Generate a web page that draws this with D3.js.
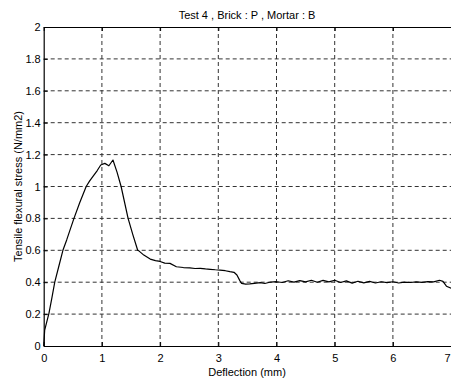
<!DOCTYPE html>
<html><head><meta charset="utf-8">
<script src="https://cdn.jsdelivr.net/npm/d3@7"></script>
<style>
html,body{margin:0;padding:0;background:#fff;}
svg{display:block;}
text{font-family:"Liberation Sans",Arial,Helvetica,sans-serif;fill:#000;}
</style></head><body>
<svg id="chart" width="451" height="380"></svg>
<script>
const title = "Test 4 , Brick : P , Mortar : B";
const xLabel = "Deflection (mm)";
const yLabel = "Tensile flexural stress (N/mm2)";
const xTicks = [0,1,2,3,4,5,6,7];
const yTicks = [0,0.2,0.4,0.6,0.8,1,1.2,1.4,1.6,1.8,2];
const deflection = [0,0.017,0.045,0.09,0.14,0.19,0.26,0.33,0.395,0.45,0.52,0.62,0.73,0.79,0.85,0.92,0.98,1.05,1.12,1.19,1.26,1.33,1.45,1.53,1.615,1.64,1.72,1.83,1.92,2.0,2.08,2.17,2.28,2.4,2.51,2.6,2.69,2.78,2.86,2.95,3.03,3.12,3.2,3.27,3.32,3.37,3.40,3.47,3.54,3.62,3.72,3.8,3.9,4.0,4.1,4.2,4.3,4.4,4.5,4.6,4.7,4.8,4.9,5.0,5.1,5.2,5.3,5.4,5.5,5.6,5.7,5.8,5.9,6.0,6.1,6.2,6.3,6.4,6.5,6.6,6.7,6.8,6.86,6.92,7.0];
const stress = [0,0.10,0.14,0.205,0.30,0.40,0.50,0.60,0.665,0.725,0.80,0.90,1.00,1.035,1.065,1.10,1.135,1.145,1.13,1.166,1.09,1.00,0.80,0.70,0.60,0.595,0.57,0.545,0.535,0.53,0.52,0.518,0.497,0.492,0.49,0.486,0.487,0.483,0.481,0.478,0.476,0.472,0.466,0.462,0.445,0.41,0.393,0.388,0.389,0.393,0.397,0.392,0.401,0.403,0.398,0.409,0.400,0.410,0.402,0.412,0.400,0.411,0.402,0.412,0.398,0.408,0.394,0.406,0.396,0.405,0.395,0.403,0.397,0.403,0.395,0.400,0.398,0.402,0.399,0.404,0.402,0.412,0.405,0.375,0.362];

const svg = d3.select("#chart");
const L = 43.7, R = 451.1, T = 27, B = 346;
const x = d3.scaleLinear().domain([0,7]).range([L,R]);
const y = d3.scaleLinear().domain([0,2]).range([B,T]);

// grid
const g = svg.append("g");
g.selectAll(".vg").data(xTicks.filter(d=>d>0&&d<7)).enter().append("line")
  .attr("x1",d=>x(d)).attr("x2",d=>x(d)).attr("y1",B).attr("y2",T)
  .attr("stroke","#333").attr("stroke-width",1).attr("stroke-dasharray","4,3");
g.selectAll(".hg").data(yTicks.filter(d=>d>0&&d<2)).enter().append("line")
  .attr("x1",L).attr("x2",R).attr("y1",d=>y(d)).attr("y2",d=>y(d))
  .attr("stroke","#333").attr("stroke-width",1).attr("stroke-dasharray","4,3");

// axes (ticks inward)
const xAxis = d3.axisBottom(x).tickValues(xTicks).tickFormat(d3.format("d")).tickSizeInner(-4).tickSizeOuter(0).tickPadding(8);
const yAxis = d3.axisLeft(y).tickValues(yTicks).tickFormat(d=>String(d)).tickSizeInner(-4).tickSizeOuter(0).tickPadding(3);
const xa = svg.append("g").attr("transform",`translate(0,${B})`).call(xAxis);
const ya = svg.append("g").attr("transform",`translate(${L},0)`).call(yAxis);
const xTop = svg.append("g").attr("transform",`translate(0,${T})`).call(d3.axisTop(x).tickValues(xTicks).tickFormat("").tickSizeInner(-4).tickSizeOuter(0));
[xa,ya,xTop].forEach(a=>{
  a.selectAll("path").attr("stroke","#000").attr("stroke-width",1.2);
  a.selectAll("line").attr("stroke","#000");
  a.selectAll("text").attr("font-size","11px").attr("font-family","Liberation Sans, Arial, sans-serif");
});
// keep the last x tick label inside the window
xa.selectAll(".tick text").filter(d=>d===7).attr("text-anchor","end").attr("dx","-1");

// curve
const line = d3.line().x((d,i)=>x(deflection[i])).y((d,i)=>y(stress[i]));
svg.append("path").datum(stress).attr("d",line)
  .attr("fill","none").attr("stroke","#000").attr("stroke-width",1.2).attr("stroke-linejoin","round");

// labels
svg.append("text").attr("x",247).attr("y",19).attr("text-anchor","middle").attr("font-size","11px").text(title);
svg.append("text").attr("x",247).attr("y",376).attr("text-anchor","middle").attr("font-size","11px").text(xLabel);
svg.append("text").attr("transform",`translate(22,${(T+B)/2}) rotate(-90)`).attr("text-anchor","middle").attr("font-size","11px").text(yLabel);
</script>
</body></html>
